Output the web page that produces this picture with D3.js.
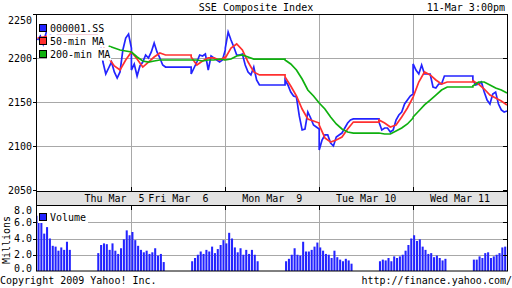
<!DOCTYPE html>
<html>
<head>
<meta charset="utf-8">
<script src="https://cdn.jsdelivr.net/npm/d3@7"></script>
<style>
  body { margin: 0; background: #fff; }
  text { font-family: "DejaVu Sans Mono", monospace; font-size: 10px; fill: #000; }
</style>
</head>
<body>
<svg id="chart"></svg>
<script>
const width = 512, height = 288;

// session layout: 9:30-11:30, lunch, 13:00-15:00 (hours from 9:30)
const dayLen = 5.5, pmStart = 3.5;
const dayLabels = ["Thu Mar  5", "Fri Mar  6", "Mon Mar  9", "Tue Mar 10", "Wed Mar 11"];
const yTicks = [2050, 2100, 2150, 2200, 2250];
const volTicks = [0, 2, 4, 6, 8];

// 000001.SS, one value every 10 min
const priceAM = [
  [2221, 2225.6, 2216.5, 2229, 2232.4, 2223.3, 2218.8, 2226.7, 2230.1, 2223.3, 2225.6, 2227.8, 2226.7],
  [2186.9, 2193.8, 2180.1, 2191.5, 2196, 2204, 2200.6, 2207.4, 2217.6, 2207.4, 2200.6, 2192.6, 2190.3],
  [2211.9, 2230.1, 2221, 2213.1, 2204, 2204, 2205.1, 2192.6, 2184.7, 2181.3, 2190.3, 2175.6, 2169.9],
  [2096, 2107.4, 2113.1, 2113.1, 2104, 2100.6, 2110.8, 2113.1, 2115.3, 2121, 2126.7, 2130.1, 2131.3],
  [2193.8, 2186.9, 2182.4, 2192.6, 2182.4, 2182.4, 2182.4, 2167.6, 2166.5, 2171, 2171, 2180.1, 2180.1]
];
const pricePM = [
  [2226.7, 2221, 2196, 2182.4, 2189.2, 2196, 2184.7, 2177.8, 2184.7, 2209.7, 2223.3, 2227.8, 2211.9],
  [2182.4, 2189.2, 2196, 2204, 2202.8, 2205.1, 2186.9, 2202.8, 2200.6, 2198.3, 2196, 2198.3, 2209.7],
  [2175.6, 2169.9, 2161.9, 2157.4, 2156.2, 2134.7, 2118.8, 2119.9, 2139.2, 2132.4, 2124.4, 2122.2, 2119.9],
  [2127.8, 2118.8, 2121, 2121, 2116.5, 2118.8, 2130.1, 2135.8, 2139.2, 2148.3, 2152.8, 2157.4, 2159.7],
  [2175.6, 2169.9, 2171, 2173.3, 2161.9, 2152.8, 2148.3, 2159.7, 2161.9, 2148.3, 2141.5, 2139.2, 2140.3]
];

// moving averages, one value every 20 min
const ma50AM = [
  [2223.3, 2224.4, 2225.6, 2225.6, 2226.7, 2226.7, 2226.7],
  [2207.4, 2199.4, 2190.3, 2196, 2201.7, 2206.3, 2204],
  [2200.6, 2211.9, 2216.5, 2209.7, 2196, 2184.7, 2181.3],
  [2124.4, 2109.7, 2105.1, 2107.4, 2110.8, 2119.9, 2127.8],
  [2156.2, 2173.3, 2184.7, 2181.3, 2175.6, 2171, 2173.3]
];
const ma50PM = [
  [2225.6, 2215.3, 2200.6, 2191.5, 2186.9, 2198.3, 2207.4],
  [2201.7, 2192.6, 2197.2, 2200.6, 2200.6, 2198.3, 2201.7],
  [2179, 2168.8, 2157.4, 2142.6, 2131.3, 2129, 2126.7],
  [2130.1, 2126.7, 2122.2, 2124.4, 2133.5, 2143.8, 2156.2],
  [2174.4, 2171, 2165.3, 2158.5, 2155.1, 2151.7, 2147.2]
];
const ma200AM = [
  [null, null, null, null, null, null, null],
  [2207.4, 2201.7, 2197.2, 2196, 2197.2, 2198.3, 2198.3],
  [2198.3, 2199.4, 2202.8, 2204, 2201.7, 2199.4, 2199.4],
  [2149.4, 2142.6, 2133.5, 2125.6, 2119.9, 2116.5, 2115.3],
  [2133.5, 2140.3, 2147.2, 2152.8, 2158.5, 2164.2, 2167.6]
];
const ma200PM = [
  [null, null, 2214.2, 2211.9, 2209.7, 2208.5, 2207.4],
  [2198.3, 2198.3, 2197.2, 2198.3, 2198.3, 2199.4, 2198.3],
  [2198.3, 2193.8, 2186.9, 2176.7, 2164.2, 2157.4, 2149.4],
  [2115.3, 2114.2, 2114.2, 2117.6, 2121, 2125.6, 2132.4],
  [2168.8, 2173.3, 2173.3, 2169.9, 2166.5, 2164.2, 2160.8]
];

// volume (millions), one bar every 10 min
const volAM = [
  [6.8, 6.0, 4.6, 5.4, 4.0, 3.1, 3.0, 2.5, 2.9, 2.6, 3.6, 2.6],
  [4.8, 3.8, 3.1, 2.6, 2.3, 2.5, 2.1, 2.3, 2.8, 1.9, 2.1, 1.1],
  [3.4, 4.7, 4.0, 2.9, 2.3, 2.8, 2.0, 2.6, 2.1, 2.6, 2.0, 1.2],
  [2.9, 2.5, 2.1, 2.0, 1.6, 2.5, 1.7, 1.4, 1.2, 1.5, 1.3, 0.9],
  [4.4, 3.7, 3.9, 3.0, 2.6, 2.1, 2.2, 1.7, 1.9, 1.6, 1.3, 1.5]
];
const volPM = [
  [2.2, 3.2, 3.4, 3.3, 2.6, 3.4, 2.5, 2.1, 2.8, 3.9, 5.0, 4.4],
  [1.2, 1.6, 2.0, 2.4, 2.1, 2.6, 2.4, 3.0, 2.2, 2.7, 3.2, 3.8],
  [1.2, 1.5, 2.0, 2.8, 2.0, 1.9, 3.6, 2.4, 2.4, 2.6, 3.0, 3.5],
  [1.2, 1.4, 1.3, 1.6, 1.2, 1.8, 1.6, 1.8, 2.0, 2.5, 3.2, 4.0],
  [1.4, 1.4, 1.8, 1.6, 2.2, 2.3, 1.6, 1.8, 2.0, 2.2, 2.9, 3.0]
];

const blue = "#2323ff", red = "#ff3030", green = "#0fb00f", grid = "#a8a8a8";

const svg = d3.select("#chart")
  .attr("width", width)
  .attr("height", height);

const x = d3.scaleLinear().domain([0, dayLabels.length * dayLen]).range([37.5, 507]);
const y = d3.scaleLinear().domain([2050, 2250]).range([190.5, 14.5]);
const yVol = d3.scaleLinear().domain([0, 8]).range([271, 206]);

const px = v => Math.round(v) + 0.5;
const plotL = 36.5, plotR = 507.5;
const dayBounds = d3.range(1, dayLabels.length).map(d => px(x(d * dayLen)));

// Title
svg.append("text").attr("x", 256).attr("y", 11).attr("text-anchor", "middle").text("SSE Composite Index");
svg.append("text").attr("x", 505).attr("y", 11).attr("text-anchor", "end").text("11-Mar 3:00pm");

// ---- main panel grid ----
const main = svg.append("g");
main.selectAll(".hgrid")
  .data(yTicks.slice(1, -1))
  .enter().append("line")
  .attr("x1", plotL).attr("x2", plotR)
  .attr("y1", d => y(d)).attr("y2", d => y(d))
  .attr("stroke", grid);

main.selectAll(".vgrid")
  .data(dayBounds)
  .enter().append("line")
  .attr("x1", d => d).attr("x2", d => d)
  .attr("y1", 15).attr("y2", 192)
  .attr("stroke", grid);

// y labels + ticks
main.selectAll(".ylab")
  .data(yTicks)
  .enter().append("text")
  .attr("x", 32)
  .attr("y", d => Math.max(y(d), 20.5) + 3.5)
  .attr("text-anchor", "end")
  .text(d => d);
main.selectAll(".ltick")
  .data(yTicks)
  .enter().append("line")
  .attr("x1", 33).attr("x2", 37)
  .attr("y1", d => y(d)).attr("y2", d => y(d))
  .attr("stroke", "#000");
main.selectAll(".rtick")
  .data(yTicks)
  .enter().append("line")
  .attr("x1", 503).attr("x2", 507)
  .attr("y1", d => y(d)).attr("y2", d => y(d))
  .attr("stroke", "#000");

// ---- series ----
function buildPoints(am, pm, step) {
  const pts = [];
  am.forEach((vals, d) => {
    const t0 = d * dayLen;
    vals.forEach((v, i) => pts.push({ t: t0 + i * step, v: v }));
    // lunch break: hold last morning value
    pts.push({ t: t0 + pmStart, v: vals[vals.length - 1] });
    pm[d].forEach((v, i) => pts.push({ t: t0 + pmStart + i * step, v: v }));
  });
  return pts;
}

const line = d3.line()
  .defined(d => d.v != null)
  .x(d => x(d.t))
  .y(d => y(d.v));

const lines = [
  { pts: buildPoints(priceAM, pricePM, 1 / 6), color: blue },
  { pts: buildPoints(ma50AM, ma50PM, 1 / 3), color: red },
  { pts: buildPoints(ma200AM, ma200PM, 1 / 3), color: green }
];

main.selectAll(".series")
  .data(lines)
  .enter().append("path")
  .attr("d", d => line(d.pts))
  .attr("fill", "none")
  .attr("stroke", d => d.color)
  .attr("stroke-width", 1.7)
  .attr("stroke-linejoin", "miter");

// legend (white block behind the labels hides the lines)
const legendItems = [
  { name: "000001.SS", color: blue },
  { name: "50-min MA", color: red },
  { name: "200-min MA", color: green }
];
const legend = main.selectAll(".legend")
  .data(legendItems)
  .enter().append("g")
  .attr("transform", (d, i) => `translate(0, ${28 + i * 13})`);
legend.append("rect")
  .attr("x", 47).attr("y", -6.5)
  .attr("width", d => d.name.length * 6 + 4).attr("height", 13)
  .attr("fill", "#fff");
legend.append("rect")
  .attr("x", 39.5).attr("y", -3.5)
  .attr("width", 7).attr("height", 7)
  .attr("fill", d => d.color)
  .attr("stroke", "#000");
legend.append("text")
  .attr("x", 50).attr("y", 3.5)
  .text(d => d.name);

// frame
main.append("rect")
  .attr("x", plotL).attr("y", 14.5)
  .attr("width", plotR - plotL).attr("height", 177)
  .attr("fill", "none").attr("stroke", "#000");

// ---- date band ----
svg.append("rect")
  .attr("x", plotL).attr("y", 191.5)
  .attr("width", plotR - plotL).attr("height", 14)
  .attr("fill", "#e2e2e2").attr("stroke", "#000");

svg.selectAll(".daytick")
  .data(dayBounds)
  .enter().append("line")
  .attr("x1", d => d).attr("x2", d => d)
  .attr("y1", 187).attr("y2", 192)
  .attr("stroke", "#000");
svg.selectAll(".daytick2")
  .data(dayBounds)
  .enter().append("line")
  .attr("x1", d => d).attr("x2", d => d)
  .attr("y1", 205).attr("y2", 210)
  .attr("stroke", "#000");

svg.selectAll(".daylab")
  .data(dayLabels)
  .enter().append("text")
  .attr("x", (d, i) => x(i * dayLen + dayLen / 2))
  .attr("y", 202)
  .attr("text-anchor", (d, i) => i === 0 ? "start" : "middle")
  .style("white-space", "pre")
  .attr("xml:space", "preserve")
  .text(d => d);

// ---- volume panel ----
const vol = svg.append("g");
vol.selectAll(".vhgrid")
  .data(volTicks.slice(1, -1))
  .enter().append("line")
  .attr("x1", plotL).attr("x2", plotR)
  .attr("y1", d => px(yVol(d))).attr("y2", d => px(yVol(d)))
  .attr("stroke", grid);
vol.selectAll(".vvgrid")
  .data(dayBounds)
  .enter().append("line")
  .attr("x1", d => d).attr("x2", d => d)
  .attr("y1", 210).attr("y2", 271)
  .attr("stroke", grid);

const bars = [];
volAM.forEach((vals, d) => {
  vals.forEach((v, i) => bars.push({ t: d * dayLen + i / 6, v: v }));
  volPM[d].forEach((v, i) => bars.push({ t: d * dayLen + pmStart + i / 6, v: v }));
});
const barW = x(1 / 6) - x(0) - 0.8;
vol.selectAll(".bar")
  .data(bars)
  .enter().append("rect")
  .attr("x", d => x(d.t))
  .attr("y", d => yVol(d.v))
  .attr("width", barW)
  .attr("height", d => yVol(0) - yVol(d.v))
  .attr("fill", blue);

vol.selectAll(".vlab")
  .data(volTicks)
  .enter().append("text")
  .attr("x", 32)
  .attr("y", d => Math.min(Math.max(yVol(d), 210.5), 268.5) + 3.5)
  .attr("text-anchor", "end")
  .text(d => d.toFixed(1));
vol.selectAll(".vrtick")
  .data(volTicks.slice(1, -1))
  .enter().append("line")
  .attr("x1", 503).attr("x2", 507)
  .attr("y1", d => px(yVol(d))).attr("y2", d => px(yVol(d)))
  .attr("stroke", "#000");
vol.selectAll(".vltick")
  .data(volTicks.slice(1, -1))
  .enter().append("line")
  .attr("x1", 33).attr("x2", 37)
  .attr("y1", d => px(yVol(d))).attr("y2", d => px(yVol(d)))
  .attr("stroke", "#000");

vol.append("text")
  .attr("transform", "translate(10, 240) rotate(-90)")
  .attr("text-anchor", "middle")
  .text("Millions");

// volume legend
vol.append("rect")
  .attr("x", 38).attr("y", 212)
  .attr("width", 50).attr("height", 11)
  .attr("fill", "#fff");
vol.append("rect")
  .attr("x", 39.5).attr("y", 213.5)
  .attr("width", 7).attr("height", 7)
  .attr("fill", blue).attr("stroke", "#000");
vol.append("text").attr("x", 50).attr("y", 221).text("Volume");

vol.append("rect")
  .attr("x", plotL).attr("y", 205.5)
  .attr("width", plotR - plotL).attr("height", 65.5)
  .attr("fill", "none").attr("stroke", "#000");

// footer
svg.append("text").attr("x", 0).attr("y", 284).text("Copyright 2009 Yahoo! Inc.");
svg.append("text").attr("x", 512).attr("y", 284).attr("text-anchor", "end").text("http://finance.yahoo.com/");
</script>
</body>
</html>
